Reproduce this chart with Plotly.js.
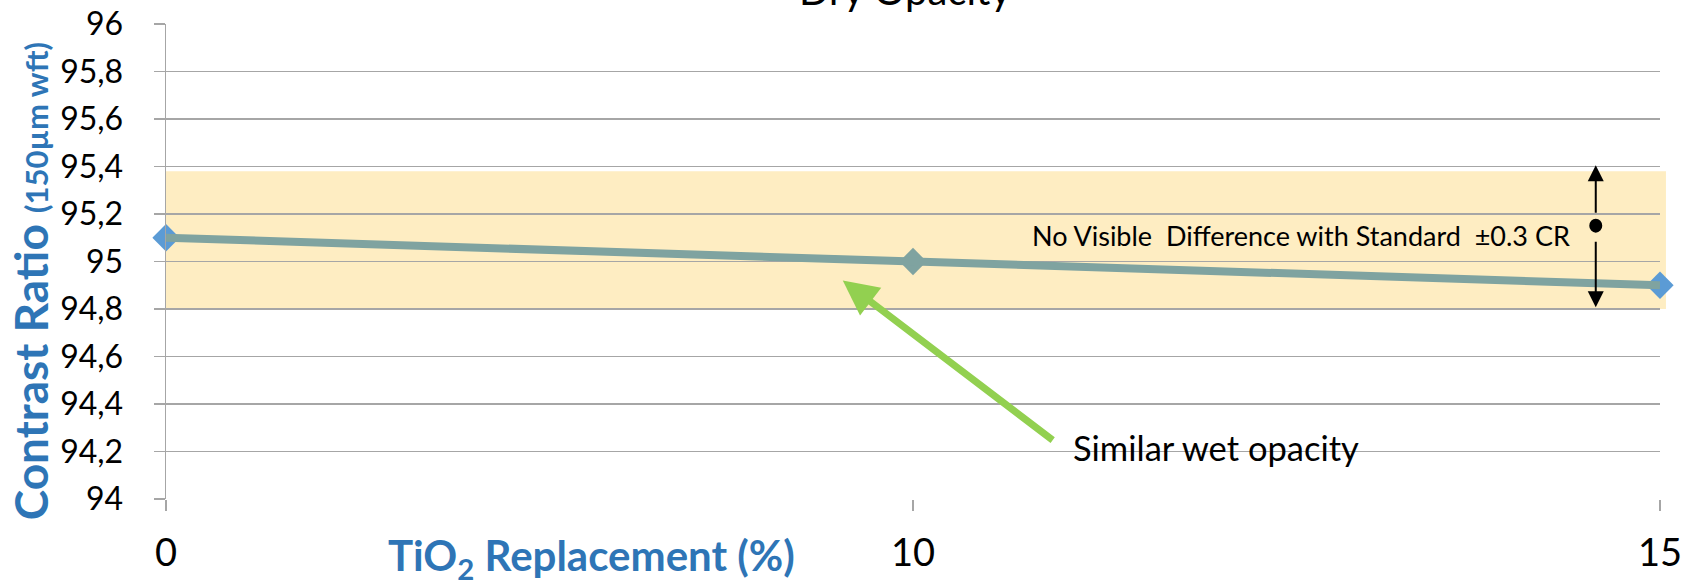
<!DOCTYPE html>
<html><head><meta charset="utf-8">
<script src="https://cdn.plot.ly/plotly-3.0.1.min.js"></script>
<style>html,body{margin:0;padding:0;background:#fff}</style>
</head><body><div id="chart" style="width:1700px;height:583px"></div>
<script>
// Data
const categories = ['0', '10', '15'];
const contrastRatio = [95.1, 95.0, 94.9];
const markerColors = ['#5B9BD5', '#7FA3A0', '#5B9BD5'];
const bandLow = 94.8;
const bandHigh = 95.38;
const yRange = [94, 96];
const titleText = 'Dry Opacity';
const yTitleMain = 'Contrast Ratio';
const yTitleSub = '(150µm wft)';
const xTitleText = 'TiO<sub>2</sub> Replacement (%)';
const bandText = 'No Visible\u00a0 Difference with Standard\u00a0 ±0.3 CR';
const arrowText = 'Similar wet opacity';

const FONT = 'Lato, "Open Sans", sans-serif';
const BLUE = '#2E75B6';

const traces = [
  {
    x: categories, y: contrastRatio, type: 'scatter', mode: 'markers',
    marker: {symbol: 'diamond', size: 21, color: markerColors, line: {width: 0}},
    cliponaxis: false, showlegend: false, hoverinfo: 'skip'
  },
  {
    x: categories, y: contrastRatio, type: 'scatter', mode: 'lines',
    line: {color: '#7FA3A0', width: 8},
    cliponaxis: false, showlegend: false
  }
];

const layout = {
  width: 1700, height: 583,
  margin: {l: 166, r: 40, t: 24, b: 84, pad: 0},
  paper_bgcolor: '#ffffff', plot_bgcolor: '#ffffff',
  separators: ', ',
  showlegend: false,
  font: {family: FONT, color: '#000000'},
  xaxis: {
    type: 'category', range: [0, 2],
    showgrid: false, zeroline: false,
    showline: false,
    ticks: 'outside', ticklen: 11, tickwidth: 1.5, tickcolor: '#A6A6A6',
    tickfont: {family: FONT, size: 38, color: '#000'},
    ticklabelstandoff: 9
  },
  yaxis: {
    range: yRange, tick0: 94, dtick: 0.2,
    showgrid: true, gridcolor: '#A6A6A6', gridwidth: 1.5,
    zeroline: false, showline: true, linecolor: '#A6A6A6', linewidth: 1.5,
    ticks: 'outside', ticklen: 11, tickwidth: 1.5, tickcolor: '#A6A6A6',
    tickfont: {family: FONT, size: 32, color: '#000'},
    ticklabelstandoff: 24
  },
  shapes: [
    {type: 'rect', xref: 'paper', yref: 'y', x0: 0, x1: 1.004, y0: bandLow, y1: bandHigh,
     fillcolor: 'rgba(252,215,120,0.45)', line: {width: 0}, layer: 'between'},
    {type: 'circle', xref: 'x', yref: 'y', xsizemode: 'pixel', ysizemode: 'pixel',
     xanchor: 1.914, yanchor: 95.151, x0: -6.5, x1: 6.5, y0: -7, y1: 7,
     fillcolor: '#000', line: {width: 0}, layer: 'above'}
  ],
  annotations: [
    {text: titleText, xref: 'paper', yref: 'paper', x: 0.4946, y: 1, yanchor: 'bottom', xanchor: 'center',
     yshift: 8, showarrow: false, font: {family: FONT, size: 40, color: '#000'}},
    {text: '<b>' + yTitleMain + ' <span style="font-size:31px">' + yTitleSub + '</span></b>',
     xref: 'paper', yref: 'paper', x: -0.091, y: 0.4585, textangle: -90,
     xanchor: 'center', yanchor: 'middle', showarrow: false,
     font: {family: FONT, size: 46, color: BLUE}},
    {text: '<b>' + xTitleText + '</b>', xref: 'paper', yref: 'paper', x: 0.285, y: -0.125,
     xanchor: 'center', yanchor: 'middle', showarrow: false,
     font: {family: FONT, size: 42, color: BLUE}},
    {text: bandText, xref: 'x', yref: 'y', x: 1.882, y: 95.11, xanchor: 'right', yanchor: 'middle',
     showarrow: false, font: {family: FONT, size: 27, color: '#000'}},
    {text: arrowText, xref: 'x', yref: 'y', x: 1.212, y: 94.218, xanchor: 'left', yanchor: 'middle',
     showarrow: false, font: {family: FONT, size: 34.5, color: '#000'}},
    {text: '', xref: 'x', yref: 'y', x: 0.906, y: 94.92, axref: 'x', ayref: 'y', ax: 1.189, ay: 94.243,
     showarrow: true, arrowhead: 2, arrowsize: 1, arrowwidth: 7, arrowcolor: '#92D050', standoff: 0},
    {text: '', xref: 'x', yref: 'y', x: 1.914, y: 95.405, axref: 'x', ayref: 'y', ax: 1.914, ay: 95.199,
     showarrow: true, arrowhead: 2, arrowsize: 1.6, arrowwidth: 2, arrowcolor: '#000', standoff: 0},
    {text: '', xref: 'x', yref: 'y', x: 1.914, y: 94.807, axref: 'x', ayref: 'y', ax: 1.914, ay: 95.09,
     showarrow: true, arrowhead: 2, arrowsize: 1.6, arrowwidth: 2, arrowcolor: '#000', standoff: 0}
  ]
};

Plotly.newPlot('chart', traces, layout, {displayModeBar: false, staticPlot: true});
</script>
</body></html>
